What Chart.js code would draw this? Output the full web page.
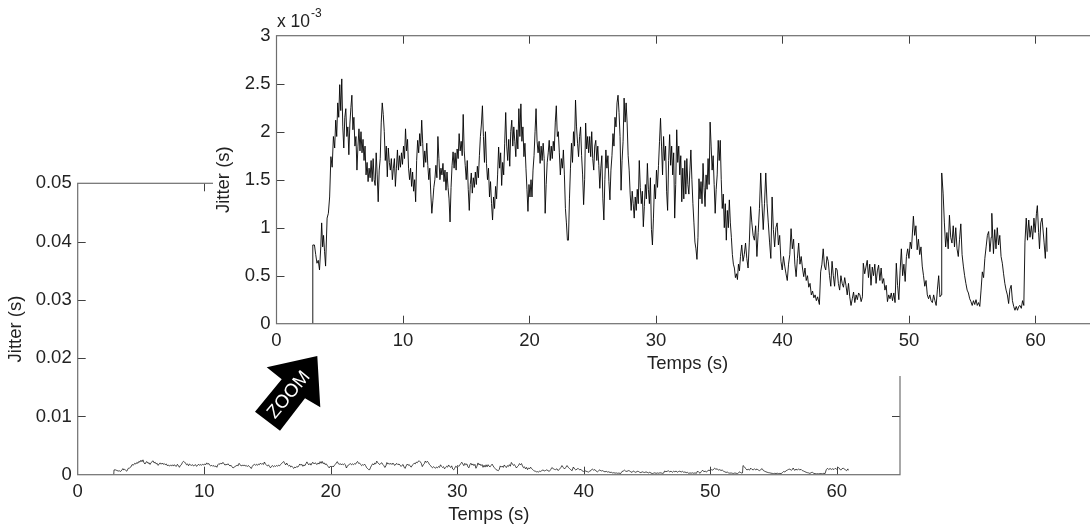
<!DOCTYPE html>
<html>
<head>
<meta charset="utf-8">
<script src="https://cdn.jsdelivr.net/npm/chart.js@4"></script>
<style>
    html, body { margin: 0; padding: 0; background: #fff; overflow: hidden; width: 1090px; height: 531px; }
    canvas { position: absolute; left: 0; top: 0; }
</style>
</head>
<body>
<canvas id="fullChart" width="1090" height="531"></canvas>
<canvas id="zoomChart" width="1110" height="531"></canvas>
<script>
// temps en secondes
const times = [
    2.85,2.87,3.0,3.1,3.2,3.3,3.4,3.5,3.57,3.65,
    3.72,3.8,3.88,4.0,4.1,4.2,4.3,4.4,4.5,4.6,
    4.68,4.76,4.84,4.92,5.00,5.08,5.16,5.24,5.32,5.40,
    5.48,5.56,5.64,5.72,5.80,5.88,5.96,6.04,6.12,6.20,
    6.28,6.36,6.44,6.52,6.60,6.68,6.76,6.84,6.92,7.00,
    7.08,7.16,7.24,7.32,7.40,7.48,7.56,7.64,7.72,7.80,
    7.88,7.96,8.04,8.12,8.20,8.28,8.36,8.44,8.52,8.60,
    8.68,8.76,8.84,8.92,9.00,9.08,9.16,9.24,9.32,9.40,
    9.48,9.56,9.64,9.72,9.80,9.88,9.96,10.04,10.12,10.20,
    10.28,10.36,10.44,10.52,10.60,10.68,10.76,10.84,10.92,11.00,
    11.08,11.16,11.24,11.32,11.40,11.48,11.56,11.64,11.72,11.80,
    11.88,11.96,12.04,12.12,12.20,12.28,12.36,12.44,12.52,12.60,
    12.68,12.76,12.84,12.92,13.00,13.08,13.16,13.24,13.32,13.40,
    13.48,13.56,13.64,13.72,13.80,13.88,13.96,14.04,14.12,14.20,
    14.28,14.36,14.44,14.52,14.60,14.68,14.76,14.84,14.92,15.00,
    15.08,15.16,15.24,15.32,15.40,15.48,15.56,15.64,15.72,15.80,
    15.88,15.96,16.04,16.12,16.20,16.28,16.36,16.44,16.52,16.60,
    16.68,16.76,16.84,16.92,17.00,17.08,17.16,17.24,17.32,17.40,
    17.48,17.56,17.64,17.72,17.80,17.88,17.96,18.04,18.12,18.20,
    18.28,18.36,18.44,18.52,18.60,18.68,18.76,18.84,18.92,19.00,
    19.08,19.16,19.24,19.32,19.40,19.48,19.56,19.64,19.72,19.80,
    19.88,19.96,20.04,20.12,20.20,20.28,20.36,20.44,20.52,20.60,
    20.68,20.76,20.84,20.92,21.00,21.08,21.16,21.24,21.32,21.40,
    21.48,21.56,21.64,21.72,21.80,21.88,21.96,22.04,22.12,22.20,
    22.28,22.36,22.44,22.52,22.60,22.68,22.76,22.84,22.92,23.00,
    23.08,23.16,23.24,23.32,23.40,23.48,23.56,23.64,23.72,23.80,
    23.88,23.96,24.04,24.12,24.20,24.28,24.36,24.44,24.52,24.60,
    24.68,24.76,24.84,24.92,25.00,25.08,25.16,25.24,25.32,25.40,
    25.48,25.56,25.64,25.72,25.80,25.88,25.96,26.04,26.12,26.20,
    26.28,26.36,26.44,26.52,26.60,26.68,26.76,26.84,26.92,27.00,
    27.08,27.16,27.24,27.32,27.40,27.48,27.56,27.64,27.72,27.80,
    27.88,27.96,28.04,28.12,28.20,28.28,28.36,28.44,28.52,28.60,
    28.68,28.76,28.84,28.92,29.00,29.08,29.16,29.24,29.32,29.40,
    29.48,29.56,29.64,29.72,29.80,29.88,29.96,30.04,30.12,30.20,
    30.28,30.36,30.44,30.52,30.60,30.68,30.76,30.84,30.92,31.00,
    31.08,31.16,31.24,31.32,31.40,31.48,31.56,31.64,31.72,31.80,
    31.88,31.96,32.04,32.12,32.20,32.28,32.36,32.44,32.52,32.60,
    32.68,32.76,32.84,32.92,33.00,33.08,33.16,33.24,33.32,33.40,
    33.48,33.56,33.64,33.72,33.80,33.88,33.96,34.04,34.12,34.20,
    34.28,34.36,34.44,34.52,34.60,34.68,34.76,34.84,34.92,35.00,
    35.08,35.16,35.24,35.32,35.40,35.48,35.56,35.64,35.72,35.80,
    35.88,35.96,36.04,36.12,36.20,36.28,36.36,36.44,36.52,36.60,
    36.68,36.78,36.88,36.98,37.08,37.18,37.28,37.38,37.48,37.58,
    37.68,37.78,37.88,37.98,38.08,38.18,38.28,38.38,38.48,38.58,
    38.68,38.78,38.88,38.98,39.08,39.18,39.28,39.38,39.48,39.58,
    39.68,39.78,39.88,39.98,40.08,40.18,40.28,40.38,40.48,40.58,
    40.68,40.78,40.88,40.98,41.08,41.18,41.28,41.38,41.48,41.58,
    41.68,41.78,41.88,41.98,42.08,42.18,42.28,42.38,42.48,42.58,
    42.68,42.78,42.92,43.02,43.12,43.22,43.32,43.42,43.52,43.62,
    43.72,43.82,43.92,44.02,44.12,44.22,44.32,44.42,44.52,44.62,
    44.72,44.82,44.92,45.02,45.12,45.22,45.32,45.42,45.52,45.62,
    45.72,45.82,45.92,46.02,46.12,46.22,46.32,46.39,46.5,46.6,
    46.7,46.8,46.9,47.0,47.1,47.2,47.3,47.4,47.5,47.6,
    47.7,47.8,47.9,48.0,48.1,48.2,48.3,48.4,48.5,48.6,
    48.7,48.8,48.9,49.0,49.1,49.2,49.3,49.4,49.5,49.6,
    49.7,49.8,49.9,50.0,50.1,50.2,50.35,50.45,50.55,50.65,
    50.75,50.85,50.95,51.05,51.15,51.25,51.35,51.45,51.55,51.65,
    51.75,51.85,51.95,52.05,52.15,52.25,52.35,52.45,52.55,52.59,
    52.7,52.8,52.9,53.0,53.1,53.2,53.3,53.4,53.5,53.6,
    53.7,53.8,53.9,54.0,54.1,54.2,54.3,54.4,54.5,54.6,
    54.7,54.8,54.9,55.0,55.1,55.2,55.3,55.4,55.5,55.6,
    55.7,55.8,55.9,56.0,56.1,56.2,56.3,56.4,56.5,56.55,
    56.68,56.78,56.88,56.98,57.08,57.18,57.28,57.38,57.48,57.58,
    57.68,57.78,57.88,57.98,58.08,58.18,58.28,58.38,58.48,58.58,
    58.68,58.78,58.88,58.98,59.08,59.17,59.27,59.37,59.47,59.57,
    59.68,59.78,59.88,59.98,60.08,60.15,60.25,60.32,60.42,60.52,
    60.68,60.78,60.88,60.92
];

// jitter en millisecondes (axe x 10^-3)
const jitterMs = [
    0,.82,.82,.72,.63,.66,.56,.80,1.05,.80,
    .92,.75,.60,1.10,1.15,1.32,1.74,1.63,1.95,1.83,
    2.12,1.95,2.30,2.15,2.49,2.22,2.55,2.05,1.83,2.15,
    2.24,1.95,2.05,1.76,2.08,2.25,2.38,2.02,2.15,1.85,
    1.95,1.60,1.85,2.03,1.80,2.00,1.78,1.92,1.70,1.85,
    1.55,1.68,1.48,1.62,1.52,1.70,1.48,1.72,1.50,1.44,
    1.78,1.55,1.27,1.60,1.72,2.10,2.30,2.18,2.00,1.70,
    1.85,1.53,1.83,1.68,1.60,1.72,1.50,1.62,1.72,1.43,
    1.62,1.81,1.60,1.75,1.63,1.78,1.66,1.85,1.72,2.03,
    1.80,1.92,1.62,1.50,1.62,1.43,1.58,1.38,1.50,1.27,
    1.70,1.91,1.78,1.98,1.85,2.12,1.88,1.63,1.80,1.68,
    1.88,1.65,1.50,1.62,1.35,1.15,1.28,1.42,1.50,1.65,
    1.52,1.95,1.72,1.50,1.62,1.55,1.67,1.48,1.60,1.39,
    1.58,1.42,1.30,1.06,1.42,1.65,1.79,1.62,1.78,1.60,
    1.82,1.72,1.98,1.80,1.90,1.75,2.18,1.80,1.65,1.50,
    1.70,1.40,1.18,1.45,1.57,1.36,1.52,1.42,1.58,1.45,
    1.64,1.52,1.75,1.95,2.08,2.27,1.95,1.68,2.00,1.67,
    1.50,1.62,1.32,1.48,1.25,1.08,1.32,1.20,1.43,1.30,
    1.55,1.84,1.62,1.78,1.44,1.68,1.55,1.88,2.20,1.85,
    1.70,1.92,1.64,2.00,2.12,1.85,2.05,1.90,1.74,2.02,
    1.82,2.24,1.95,2.29,1.90,2.05,1.74,1.88,1.62,1.40,
    1.17,1.45,1.32,1.50,1.32,1.60,1.75,2.00,2.24,1.90,
    1.78,1.90,1.67,1.85,1.70,1.88,1.72,1.15,1.45,1.68,
    1.78,1.91,1.70,1.85,1.72,1.90,1.80,2.10,2.27,1.95,
    2.00,1.78,1.55,1.72,1.62,1.81,1.55,1.20,1.05,.87,
    .87,1.30,1.62,1.88,1.68,2.00,1.85,2.33,2.05,1.88,
    1.74,1.95,2.05,1.75,1.55,1.24,1.50,2.09,1.82,1.95,
    1.78,1.95,1.74,2.00,1.72,1.60,1.85,1.91,1.70,1.85,
    1.65,1.41,1.62,1.75,1.30,1.08,1.50,1.81,1.62,1.75,
    1.48,1.29,1.60,1.75,1.98,1.85,2.15,2.05,2.30,2.38,
    2.20,1.95,1.39,1.70,1.90,2.35,2.10,2.30,2.09,1.75,
    1.60,1.35,1.18,1.38,1.25,1.10,1.32,1.18,1.40,1.25,
    1.70,1.42,1.25,1.38,1.01,1.22,1.45,1.30,1.67,1.40,
    1.25,1.52,.98,.82,1.10,1.45,1.30,1.60,1.42,1.65,
    1.90,2.14,1.85,1.55,1.95,1.70,1.85,1.38,1.18,1.70,
    1.97,1.65,1.85,1.55,1.78,1.10,1.45,2.02,1.68,1.85,
    1.55,1.75,1.27,1.62,1.30,1.70,1.35,1.72,1.45,1.35,
    1.60,1.81,1.50,1.25,1.05,.85,.78,.67,.90,1.51,
    1.30,1.48,1.25,1.67,1.42,1.22,1.55,1.40,1.72,1.45,
    2.10,1.85,1.60,1.75,1.45,1.15,1.40,1.55,1.91,1.70,
    1.91,1.50,1.20,1.35,1.00,1.25,.87,1.18,1.00,1.29,
    1.05,.90,.72,.62,.58,.48,.52,.46,.62,.55,
    .70,.82,.65,.72,.84,.68,.58,.85,1.22,1.05,
    .92,.87,1.02,.70,.95,1.20,1.57,1.25,.98,1.25,
    1.57,1.25,1.05,.85,.68,1.32,.98,.80,1.00,1.05,
    .82,.92,.65,.56,.70,.60,.52,.45,.62,.72,
    .99,.78,.88,.62,.49,.68,.84,.62,.70,.58,
    .49,.58,.45,.50,.38,.42,.30,.34,.27,.30,
    .24,.28,.20,.54,.62,.78,.60,.56,.70,.65,
    .50,.39,.65,.50,.39,.58,.56,.42,.35,.50,
    .42,.38,.48,.40,.30,.42,.28,.19,.26,.33,
    .22,.30,.25,.32,.30,.23,.28,.63,.52,.59,
    .66,.48,.62,.40,.59,.50,.62,.42,.55,.61,
    .45,.58,.42,.47,.35,.40,.23,.30,.26,.32,
    .24,.32,.22,.63,.40,.25,.55,.78,.50,.62,
    .44,.70,.78,.68,.85,.78,1.12,.92,1.02,.77,
    .88,.72,.80,.60,.50,.39,.45,.30,.26,.30,
    .24,.22,.30,.24,.19,.36,.50,.28,.30,1.57,
    1.36,1.05,.80,.95,.78,1.13,.90,.84,1.02,.80,
    1.00,.78,.70,.88,1.04,.72,.60,.50,.42,.35,
    .32,.26,.23,.19,.24,.20,.25,.19,.22,.18,
    .35,.54,.48,.68,.80,.92,.96,.75,.90,1.15,
    .73,.98,.78,1.00,.82,.92,.70,.63,.52,.42,
    .35,.30,.21,.36,.40,.24,.18,.14,.18,.14,
    .18,.19,.16,.24,.19,.85,1.10,.87,1.08,.90,
    1.02,.88,1.10,.95,1.15,1.23,.95,.78,1.05,1.10,
    .85,.68,1.0,.75
];

const xTickStep = 10;
const fullYTickStep = 0.01;
const zoomYTickStep = 0.5;
const xLabel = "Temps (s)";
const yLabel = "Jitter (s)";

const font = "'Liberation Sans', Arial, sans-serif";
const textColor = "#222";
const fontSize = 18.5;

const makePoints = (factor) => times.map((t, i) => ({x: t, y: jitterMs[i] * factor}));

// cadre et graduations vers l'interieur, facon matlab
const matlabBox = {
    id: "matlabBox",
    afterDraw(chart, args, opts) {
        const {ctx, chartArea: a, scales: {x, y}} = chart;
        ctx.save();
        ctx.strokeStyle = "#404040";
        ctx.lineWidth = 1;
        const len = opts.tickLength;
        x.ticks.forEach(t => {
            if (t.value === x.min || t.value === x.max) return;
            const px = Math.round(x.getPixelForValue(t.value)) + 0.5;
            ctx.beginPath();
            ctx.moveTo(px, a.bottom); ctx.lineTo(px, a.bottom - len);
            ctx.moveTo(px, a.top); ctx.lineTo(px, a.top + len);
            ctx.stroke();
        });
        y.ticks.forEach(t => {
            if (t.value === y.min || t.value === y.max) return;
            const py = Math.round(y.getPixelForValue(t.value)) + 0.5;
            ctx.beginPath();
            ctx.moveTo(a.left, py); ctx.lineTo(a.left + len, py);
            ctx.moveTo(a.right, py); ctx.lineTo(a.right - len, py);
            ctx.stroke();
        });
        ctx.strokeStyle = opts.frameColor;
        ctx.lineWidth = opts.frameWidth;
        ctx.strokeRect(a.left, a.top, a.right - a.left, a.bottom - a.top);
        ctx.restore();
    }
};

// le fond blanc du graphe zoome cache le haut du premier graphe
const zoomCover = {
    id: "zoomCover",
    beforeDraw(chart) {
        const {ctx} = chart;
        ctx.save();
        ctx.fillStyle = "#fff";
        ctx.fillRect(213, 0, 900, 376);
        ctx.restore();
    }
};

// facteur d'echelle et fleche ZOOM
const zoomExtras = {
    id: "zoomExtras",
    afterDraw(chart) {
        const {ctx} = chart;
        ctx.save();
        ctx.fillStyle = textColor;
        ctx.textBaseline = "alphabetic";
        ctx.font = `${fontSize - 1}px ${font}`;
        ctx.fillText("x 10", 277, 27);
        ctx.font = `12px ${font}`;
        ctx.fillText("-3", 311, 17);

        ctx.fillStyle = "#000";
        ctx.beginPath();
        ctx.moveTo(317.3, 356);
        ctx.lineTo(320.3, 407.3);
        ctx.lineTo(305, 398.3);
        ctx.lineTo(280, 430.7);
        ctx.lineTo(255, 411.7);
        ctx.lineTo(281.7, 379.3);
        ctx.lineTo(266.7, 367.3);
        ctx.closePath();
        ctx.fill();

        ctx.translate(289, 395);
        ctx.rotate(-50 * Math.PI / 180);
        ctx.fillStyle = "#fff";
        ctx.font = `18.5px ${font}`;
        ctx.textAlign = "center";
        ctx.textBaseline = "middle";
        ctx.fillText("ZOOM", 0, 0);
        ctx.restore();
    }
};

const makeChart = (id, cfg) => new Chart(document.getElementById(id), {
    type: "scatter",
    data: {
        datasets: [{
            data: cfg.points,
            showLine: true,
            borderColor: "#000",
            borderWidth: cfg.lineWidth,
            pointRadius: 0,
            tension: 0
        }]
    },
    options: {
        responsive: false,
        animation: false,
        layout: {padding: cfg.padding},
        plugins: {
            legend: {display: false},
            tooltip: {enabled: false},
            matlabBox: {tickLength: 8, frameColor: "#6e6e6e", frameWidth: 1.2}
        },
        scales: {
            x: {
                min: 0, max: 65,
                grid: {display: false, drawTicks: false},
                border: {display: false},
                afterFit: s => { s.height = cfg.xAxisHeight; },
                ticks: {
                    stepSize: xTickStep, includeBounds: false, maxRotation: 0, padding: 6,
                    color: textColor, font: {family: font, size: fontSize},
                    callback: v => String(v)
                },
                title: {display: true, text: xLabel, color: textColor, padding: 0,
                    font: {family: font, size: fontSize}}
            },
            y: {
                min: 0, max: cfg.yMax,
                grid: {display: false, drawTicks: false},
                border: {display: false},
                afterFit: s => { s.width = cfg.yAxisWidth; },
                ticks: {
                    stepSize: cfg.yStep, padding: 6,
                    color: textColor, font: {family: font, size: fontSize},
                    callback: cfg.yFormat
                },
                title: {display: true, text: yLabel, color: textColor, padding: 0,
                    font: {family: font, size: fontSize}}
            }
        }
    },
    plugins: cfg.plugins
});

makeChart("fullChart", {
    points: makePoints(0.001),
    lineWidth: 0.7,
    yMax: 0.05,
    yStep: fullYTickStep,
    yFormat: v => v === 0 ? "0" : v.toFixed(2),
    padding: {left: 5, top: 183.3, right: 190, bottom: 5},
    xAxisHeight: 51.3,
    yAxisWidth: 72.7,
    plugins: [matlabBox]
});

makeChart("zoomChart", {
    points: makePoints(1),
    lineWidth: 0.9,
    yMax: 3,
    yStep: zoomYTickStep,
    yFormat: v => String(v),
    padding: {left: 213, top: 35.7, right: 11.3, bottom: 156},
    xAxisHeight: 51.3,
    yAxisWidth: 63.5,
    plugins: [zoomCover, matlabBox, zoomExtras]
});
</script>
</body>
</html>
